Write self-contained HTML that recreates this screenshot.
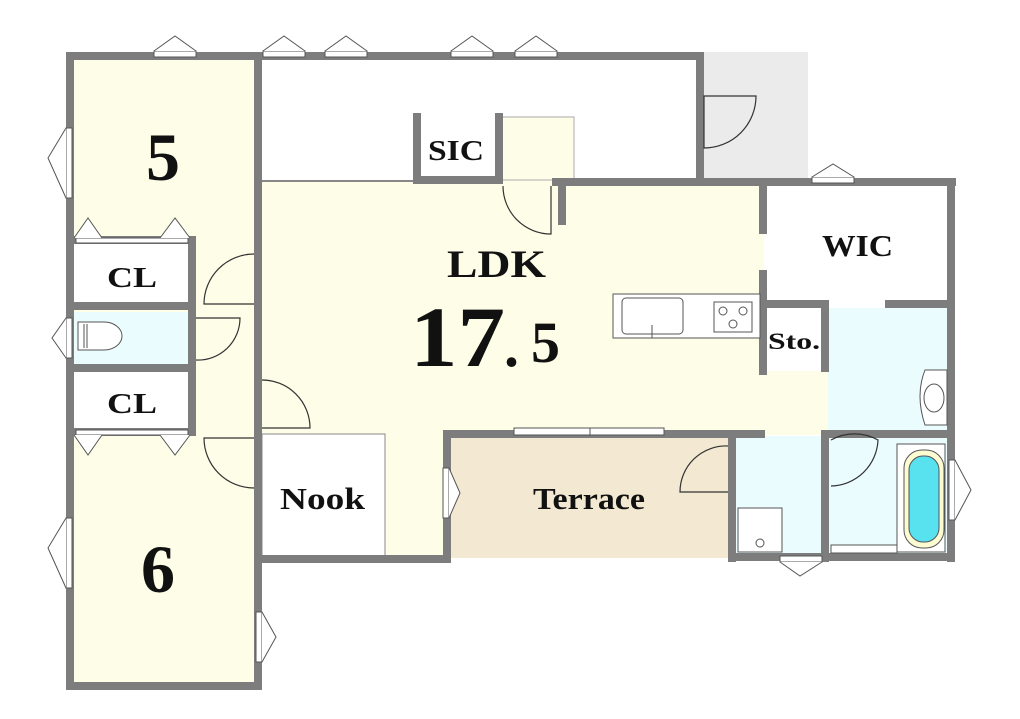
<!DOCTYPE html>
<html><head><meta charset="utf-8"><style>
html,body{margin:0;padding:0;background:#fff;width:1020px;height:719px;overflow:hidden}
svg{display:block}
text{font-family:"Liberation Serif",serif;font-weight:bold;fill:#111}
</style></head><body>
<svg width="1020" height="719" viewBox="0 0 1020 719">
<rect x="70" y="56" width="188" height="630" fill="#fefde8"/>
<rect x="258" y="56" width="442" height="124" fill="#fff"/>
<rect x="704" y="52" width="104" height="128" fill="#ebebeb"/>
<rect x="258" y="180" width="570" height="255" fill="#fefde8"/>
<rect x="385" y="430" width="60" height="128" fill="#fefde8"/>
<rect x="262" y="434" width="123" height="122" fill="#fff" stroke="#888" stroke-width="1"/>
<rect x="500" y="117" width="74" height="63" fill="#fefde8" stroke="#aaa" stroke-width="1"/>
<rect x="764" y="186" width="185" height="118" fill="#fff"/>
<rect x="828" y="308" width="120" height="124" fill="#eafcfe"/>
<rect x="447" y="436" width="283" height="122" fill="#f3e8d1"/>
<rect x="734" y="436" width="92" height="122" fill="#eafcfe"/>
<rect x="828" y="436" width="120" height="122" fill="#eafcfe"/>
<rect x="74" y="244" width="118" height="60" fill="#fff"/>
<rect x="74" y="312" width="118" height="52" fill="#eafcfe"/>
<rect x="74" y="372" width="118" height="58" fill="#fff"/>
<rect x="765" y="307" width="60" height="64" fill="#fff"/>
<line x1="262" y1="181" x2="415" y2="181" stroke="#888" stroke-width="2"/>
<g fill="#7d7d7d">
<rect x="66" y="52" width="638" height="8"/>
<rect x="66" y="52" width="8" height="638"/>
<rect x="66" y="682" width="196" height="8"/>
<rect x="254" y="52" width="8" height="638"/>
<rect x="696" y="52" width="8" height="128"/>
<rect x="413" y="113" width="8" height="70"/>
<rect x="413" y="176" width="90" height="8"/>
<rect x="495" y="113" width="8" height="70"/>
<rect x="552" y="178" width="404" height="8"/>
<rect x="558" y="178" width="8" height="47"/>
<rect x="947" y="178" width="8" height="384"/>
<rect x="759" y="178" width="8" height="56"/>
<rect x="759" y="270" width="8" height="105"/>
<rect x="759" y="300" width="70" height="8"/>
<rect x="885" y="300" width="70" height="8"/>
<rect x="821" y="300" width="8" height="72"/>
<rect x="443" y="430" width="322" height="8"/>
<rect x="823" y="430" width="132" height="8"/>
<rect x="443" y="430" width="8" height="130"/>
<rect x="262" y="555" width="189" height="8"/>
<rect x="728" y="430" width="8" height="132"/>
<rect x="821" y="430" width="8" height="132"/>
<rect x="728" y="553" width="227" height="8"/>
<rect x="66" y="236" width="130" height="8"/>
<rect x="66" y="302" width="130" height="8"/>
<rect x="66" y="364" width="130" height="8"/>
<rect x="66" y="428" width="130" height="8"/>
<rect x="188" y="236" width="8" height="200"/>
</g>
<g fill="#fff" stroke="#555" stroke-width="1">
<rect x="154" y="51" width="42" height="6"/><polyline points="154,51 175,36 196,51"/>
<rect x="263" y="51" width="42" height="6"/><polyline points="263,51 284,36 305,51"/>
<rect x="325" y="51" width="42" height="6"/><polyline points="325,51 346,36 367,51"/>
<rect x="451" y="51" width="42" height="6"/><polyline points="451,51 472,36 493,51"/>
<rect x="515" y="51" width="42" height="6"/><polyline points="515,51 536,36 557,51"/>
<rect x="812" y="177" width="42" height="6"/><polyline points="812,177 833,164 854,177"/>
<rect x="66" y="128" width="6" height="70"/><polyline points="66,128 48,158 66,198"/>
<rect x="66" y="318" width="6" height="40"/><polyline points="66,318 52,338 66,358"/>
<rect x="66" y="518" width="6" height="70"/><polyline points="66,518 48,548 66,588"/>
<rect x="256" y="612" width="6" height="50"/><polyline points="262,612 276,637 262,662"/>
<rect x="949" y="460" width="6" height="60"/><polyline points="955,460 971,490 955,520"/>
<rect x="443" y="468" width="6" height="50"/><polyline points="449,468 460,493 449,518"/>
<rect x="780" y="556" width="42" height="6"/><polyline points="780,562 800,576 822,562"/>
<rect x="76" y="238" width="112" height="5"/><polyline points="74,238 88,218 102,238"/><polyline points="160,238 175,218 190,238"/>
<rect x="76" y="430" width="112" height="5"/><polyline points="74,435 88,455 102,435"/><polyline points="160,435 175,455 190,435"/>
<rect x="514" y="428" width="150" height="7"/><line x1="590" y1="428" x2="590" y2="435"/>
</g>
<g fill="none" stroke="#333" stroke-width="1.2">
<path d="M254 254 A50 50 0 0 0 204 304 L254 304"/>
<path d="M196 318 L240 318 A42 42 0 0 1 196 360"/>
<path d="M262 380 A48 48 0 0 1 310 428 L262 428"/>
<path d="M254 438 L204 438 A50 50 0 0 0 254 488"/>
<path d="M704 96 L704 148 A52 52 0 0 0 756 96 Z"/>
<path d="M503 186 A48 48 0 0 0 551 234 L551 186"/>
<path d="M728 446 A46 46 0 0 0 680 492 L728 492"/>
<path d="M831 440 A48 48 0 0 1 878 440 A48 48 0 0 1 831 486"/>
</g>
<g fill="none" stroke="#555" stroke-width="1">
<rect x="613" y="294" width="147" height="44" fill="#fff"/>
<rect x="622" y="298" width="61" height="36" rx="4"/>
<line x1="652" y1="325" x2="652" y2="338"/>
<rect x="714" y="302" width="38" height="30"/>
<circle cx="723" cy="311" r="4"/><circle cx="743" cy="311" r="4"/><circle cx="733" cy="324" r="4"/>
<path d="M78 322 L104 322 A18 14 0 0 1 104 350 L78 350 Z" fill="#fff"/>
<line x1="84" y1="324" x2="84" y2="348"/><line x1="87" y1="324" x2="87" y2="348"/>
<path d="M947 370 L925 370 Q915 395 925 425 L947 425 Z" fill="#fff"/>
<ellipse cx="934" cy="398" rx="10" ry="14"/>
<rect x="738" y="508" width="44" height="44" fill="#fff"/>
<circle cx="760" cy="543" r="4"/>
<rect x="897" y="444" width="48" height="108" fill="#fff"/>
<rect x="904" y="450" width="40" height="98" rx="18" fill="#fdfbd2"/>
<rect x="909" y="456" width="30" height="86" rx="14" fill="#58e1ef"/>
<rect x="831" y="545" width="66" height="8" fill="#fff"/>
</g>
<g lengthAdjust="spacingAndGlyphs">
<text x="146" y="180" font-size="68">5</text>
<text x="141" y="592" font-size="68">6</text>
<text x="107" y="287" font-size="29" textLength="50" lengthAdjust="spacingAndGlyphs">CL</text>
<text x="107" y="413" font-size="29" textLength="50" lengthAdjust="spacingAndGlyphs">CL</text>
<text x="428" y="160" font-size="28" textLength="56" lengthAdjust="spacingAndGlyphs">SIC</text>
<text x="447" y="277" font-size="39" textLength="99" lengthAdjust="spacingAndGlyphs">LDK</text>
<text x="410" y="366" font-size="86" textLength="95" lengthAdjust="spacingAndGlyphs">17</text>
<text x="504" y="366" font-size="60">.</text>
<text x="531" y="362" font-size="58">5</text>
<text x="822" y="256" font-size="31" textLength="71" lengthAdjust="spacingAndGlyphs">WIC</text>
<text x="768" y="349" font-size="23" textLength="52" lengthAdjust="spacingAndGlyphs">Sto.</text>
<text x="280" y="509" font-size="31" textLength="85" lengthAdjust="spacingAndGlyphs">Nook</text>
<text x="533" y="509" font-size="31" textLength="112" lengthAdjust="spacingAndGlyphs">Terrace</text>
</g>
</svg>
</body></html>
